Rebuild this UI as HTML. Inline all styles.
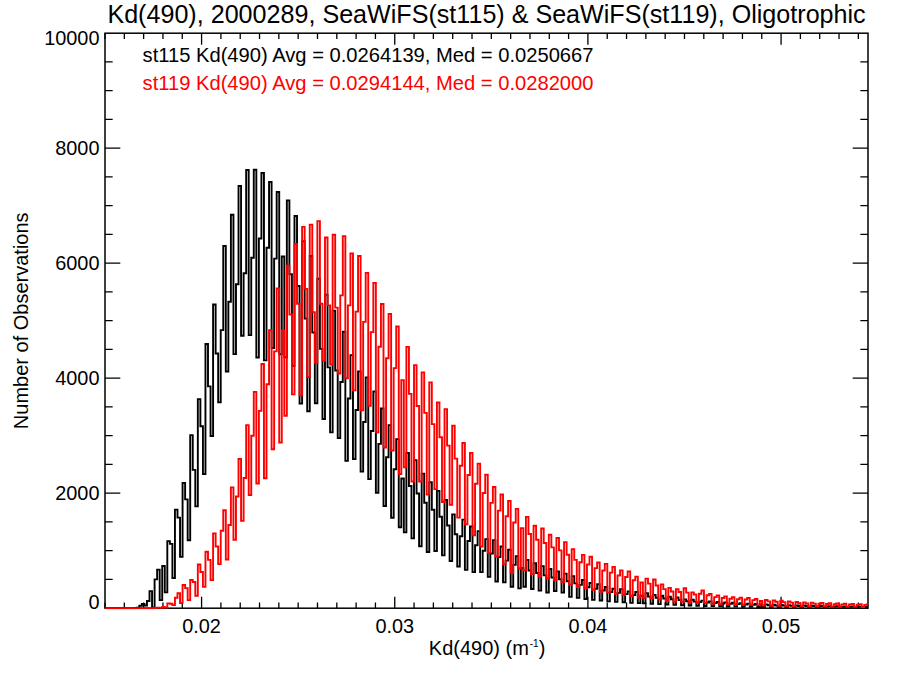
<!DOCTYPE html>
<html><head><meta charset="utf-8"><style>
html,body{margin:0;padding:0;background:#fff;width:900px;height:675px;overflow:hidden}
svg{display:block}
text{font-family:"Liberation Sans",sans-serif;fill:#000}
</style></head><body>
<svg width="900" height="675" viewBox="0 0 900 675">
<rect width="900" height="675" fill="#fff"/>
<defs><clipPath id="pc"><rect x="105.0" y="31.200000000000003" width="763.0" height="578.0"/></clipPath></defs>
<path d="M105.00,608.2v-5.75M105.00,33.2v5.75M124.32,608.2v-5.75M124.32,33.2v5.75M143.63,608.2v-5.75M143.63,33.2v5.75M162.95,608.2v-5.75M162.95,33.2v5.75M182.27,608.2v-5.75M182.27,33.2v5.75M201.58,608.2v-11.5M201.58,33.2v11.5M220.90,608.2v-5.75M220.90,33.2v5.75M240.22,608.2v-5.75M240.22,33.2v5.75M259.53,608.2v-5.75M259.53,33.2v5.75M278.85,608.2v-5.75M278.85,33.2v5.75M298.16,608.2v-5.75M298.16,33.2v5.75M317.48,608.2v-5.75M317.48,33.2v5.75M336.80,608.2v-5.75M336.80,33.2v5.75M356.11,608.2v-5.75M356.11,33.2v5.75M375.43,608.2v-5.75M375.43,33.2v5.75M394.75,608.2v-11.5M394.75,33.2v11.5M414.06,608.2v-5.75M414.06,33.2v5.75M433.38,608.2v-5.75M433.38,33.2v5.75M452.70,608.2v-5.75M452.70,33.2v5.75M472.01,608.2v-5.75M472.01,33.2v5.75M491.33,608.2v-5.75M491.33,33.2v5.75M510.65,608.2v-5.75M510.65,33.2v5.75M529.96,608.2v-5.75M529.96,33.2v5.75M549.28,608.2v-5.75M549.28,33.2v5.75M568.59,608.2v-5.75M568.59,33.2v5.75M587.91,608.2v-11.5M587.91,33.2v11.5M607.23,608.2v-5.75M607.23,33.2v5.75M626.54,608.2v-5.75M626.54,33.2v5.75M645.86,608.2v-5.75M645.86,33.2v5.75M665.18,608.2v-5.75M665.18,33.2v5.75M684.49,608.2v-5.75M684.49,33.2v5.75M703.81,608.2v-5.75M703.81,33.2v5.75M723.13,608.2v-5.75M723.13,33.2v5.75M742.44,608.2v-5.75M742.44,33.2v5.75M761.76,608.2v-5.75M761.76,33.2v5.75M781.08,608.2v-11.5M781.08,33.2v11.5M800.39,608.2v-5.75M800.39,33.2v5.75M819.71,608.2v-5.75M819.71,33.2v5.75M839.03,608.2v-5.75M839.03,33.2v5.75M858.34,608.2v-5.75M858.34,33.2v5.75M105.0,579.45h7.65M868.0,579.45h-7.65M105.0,550.70h7.65M868.0,550.70h-7.65M105.0,521.95h7.65M868.0,521.95h-7.65M105.0,493.20h15.3M868.0,493.20h-15.3M105.0,464.45h7.65M868.0,464.45h-7.65M105.0,435.70h7.65M868.0,435.70h-7.65M105.0,406.95h7.65M868.0,406.95h-7.65M105.0,378.20h15.3M868.0,378.20h-15.3M105.0,349.45h7.65M868.0,349.45h-7.65M105.0,320.70h7.65M868.0,320.70h-7.65M105.0,291.95h7.65M868.0,291.95h-7.65M105.0,263.20h15.3M868.0,263.20h-15.3M105.0,234.45h7.65M868.0,234.45h-7.65M105.0,205.70h7.65M868.0,205.70h-7.65M105.0,176.95h7.65M868.0,176.95h-7.65M105.0,148.20h15.3M868.0,148.20h-15.3M105.0,119.45h7.65M868.0,119.45h-7.65M105.0,90.70h7.65M868.0,90.70h-7.65M105.0,61.95h7.65M868.0,61.95h-7.65" stroke="#000" stroke-width="1.3" fill="none"/>
<rect x="105.0" y="33.2" width="763.0" height="575.0" fill="none" stroke="#000" stroke-width="1.5"/>
<g clip-path="url(#pc)" fill="none" stroke-linejoin="miter" stroke-linecap="butt">
<path d="M103.73,608.20H106.27V608.20H108.81V608.20H111.36V608.20H113.90V608.20H116.44V608.20H118.99V608.20H121.53V608.20H124.08V608.20H126.62V608.20H129.16V608.20H131.71V608.20H134.25V607.86H136.79V607.69H139.34V605.78H141.88V603.83H144.42V605.52H146.97V600.96H149.51V591.12H152.05V607.68H154.59V579.34H157.14V569.62H159.68V600.15H162.22V566.05H164.77V592.33H167.31V541.16H169.86V543.86H172.40V577.96H174.94V509.65H177.49V517.64H180.03V556.85H182.57V482.91H185.12V499.35H187.66V540.18H190.20V435.12H192.75V469.86H195.29V506.37H197.83V399.13H200.38V426.25H202.92V473.94H205.46V344.05H208.00V386.34H210.55V435.93H213.09V304.54H215.63V353.57H218.18V402.41H220.72V330.15H223.26V246.01H225.81V371.47H228.35V301.76H230.90V214.73H233.44V354.17H235.98V284.30H238.53V186.04H241.07V335.77H243.61V273.21H246.16V169.99H248.70V335.08H251.24V257.68H253.78V169.71H256.33V357.50H258.87V238.48H261.42V173.04H263.96V360.38H266.50V247.68H269.05V182.01H271.59V348.01H274.13V258.60H276.68V192.02H279.22V354.26H281.76V256.47H284.31V357.23H286.85V200.41H289.39V274.30H291.94V366.07H294.48V216.05H297.02V286.03H299.56V403.44H302.11V241.29H304.65V318.60H307.20V411.26H309.74V256.01H312.28V332.51H314.83V403.27H317.37V278.73H319.91V348.87H322.46V419.03H325.00V294.65H327.54V367.39H330.09V432.37H332.63V310.58H335.17V370.50H337.72V437.94H340.26V382.05H342.80V331.80H345.35V460.89H347.89V398.56H350.43V355.14H352.98V458.99H355.52V410.06H358.06V371.42H360.61V471.58H363.15V421.96H365.69V377.40H368.24V479.00H370.78V431.04H373.32V391.43H375.87V492.74H378.41V443.89H380.95V408.50H383.50V506.00H386.04V457.30H388.58V425.12H391.12V517.70H393.67V469.19H396.21V439.09H398.75V527.21H401.30V478.43H403.84V532.36H406.38V452.89H408.93V485.93H411.47V538.42H414.01V460.31H416.56V493.43H419.10V546.23H421.65V473.59H424.19V502.81H426.73V552.02H429.28V482.22H431.82V509.71H434.36V550.93H436.91V490.84H439.45V516.77H441.99V555.36H444.54V500.04H447.08V525.51H449.62V560.94H452.17V514.42H454.71V534.21H457.25V566.57H459.80V536.28H462.34V519.59H464.88V569.85H467.43V540.99H469.97V526.49H472.51V572.09H475.06V545.29H477.60V531.09H480.14V572.09H482.69V550.78H485.23V539.09H487.77V576.86H490.31V553.46H492.86V540.12H495.40V581.46H497.94V557.14H500.49V546.50H503.03V582.38H505.58V560.59H508.12V549.78H510.66V586.70H513.21V564.84H515.75V556.11H518.29V588.36H520.84V568.02H523.38V586.70H525.92V559.84H528.47V570.43H531.01V589.00H533.55V563.29H536.10V573.04H538.64V590.61H541.18V566.17H543.73V575.34H546.27V592.56H548.81V569.04H551.36V577.49H553.90V591.01H556.44V571.34H558.99V579.31H561.53V592.56H564.07V573.59H566.62V581.20H569.16V596.83H571.70V576.17H574.25V583.34H576.79V597.90H579.33V584.86H581.88V579.97H584.42V599.00H586.96V587.24H589.50V583.02H592.05V599.91H594.59V588.70H597.13V584.22H599.68V600.54H602.22V590.46H604.77V586.93H607.31V601.40H609.85V592.13H612.39V588.71H614.94V601.88H617.48V592.85H620.02V589.17H622.57V602.25H625.11V594.17H627.65V591.41H630.20V602.84H632.74V595.11H635.28V592.04H637.83V603.08H640.37V595.69H642.92V603.26H645.46V593.08H648.00V596.59H650.55V603.76H653.09V594.92H655.63V597.80H658.18V604.16H660.72V595.78H663.26V598.51H665.81V604.46H668.35V596.70H670.89V599.21H673.44V604.74H675.98V597.50H678.52V600.15H681.07V605.25H683.61V599.40H686.15V601.27H688.70V605.54H691.24V599.81H693.78V601.66H696.33V605.72H698.87V602.00H701.41V600.67H703.96V605.94H706.50V602.54H709.04V601.36H711.59V606.16H714.13V603.09H716.67V601.96H719.22V606.32H721.76V603.44H724.30V602.39H726.85V606.46H729.39V603.78H731.93V602.82H734.48V606.59H737.02V604.13H739.56V603.25H742.11V606.72H744.65V604.43H747.19V603.60H749.74V606.83H752.28V604.70H754.82V603.95H757.37V606.93H759.91V604.98H762.45V607.01H765.00V604.41H767.54V605.23H770.08V607.09H772.62V604.66H775.17V605.44H777.71V607.18H780.25V604.92H782.80V605.65H785.34V607.26H787.88V605.18H790.43V605.85H792.97V607.33H795.51V605.38H798.06V605.99H800.60V607.38H803.14V605.56H805.69V606.13H808.23V607.43H810.77V605.73H813.32V606.27H815.86V607.49H818.41V606.36H820.95V605.96H823.49V607.54H826.04V606.50H828.58V606.13H831.12V607.59H833.67V606.64H836.21V606.30H838.75V607.64H841.30V606.77H843.84V606.45H846.38V607.68H848.93V606.84H851.47V606.53H854.01V607.70H856.56V606.91H859.10V606.62H861.64V607.73H864.19V606.98H866.73V606.71H869.27V607.76H871.82V607.05H874.36V606.79H876.90V607.78H879.45V607.12H881.99" stroke="#000" stroke-width="1.9"/>
<path d="M103.73,608.20H106.27V608.20H108.81V608.20H111.36V608.20H113.90V608.20H116.44V608.20H118.99V608.20H121.53V608.20H124.08V608.20H126.62V608.20H129.16V608.20H131.71V608.20H134.25V608.20H136.79V608.20H139.34V608.20H141.88V608.20H144.42V608.20H146.97V608.20H149.51V608.20H152.05V608.20H154.59V608.06H157.14V607.65H159.68V607.92H162.22V607.06H164.77V607.66H167.31V603.37H169.86V603.77H172.40V605.15H174.94V597.74H177.49V593.13H180.03V602.97H182.57V584.97H185.12V588.13H187.66V600.15H190.20V579.97H192.75V582.04H195.29V595.78H197.83V564.50H200.38V572.03H202.92V586.87H205.46V551.79H208.00V559.84H210.55V580.14H213.09V533.39H215.63V546.56H218.18V564.16H220.72V530.80H223.26V510.28H225.81V559.50H228.35V524.94H230.90V487.39H233.44V539.78H235.98V496.54H238.53V458.93H241.07V520.86H243.61V478.02H246.16V425.12H248.70V495.04H251.24V435.77H253.78V391.83H256.33V483.48H258.87V410.89H261.42V364.06H263.96V478.19H266.50V384.22H269.05V330.30H271.59V449.29H274.13V351.36H276.68V288.50H279.22V442.49H281.76V330.09H284.31V415.81H286.85V265.73H289.39V314.44H291.94V394.36H294.48V244.00H297.02V303.68H299.56V395.28H302.11V226.92H304.65V288.90H307.20V377.05H309.74V224.62H312.28V312.08H314.83V362.85H317.37V221.11H319.91V303.74H322.46V360.61H325.00V237.44H327.54V305.41H330.09V364.57H332.63V234.74H335.17V307.65H337.72V373.49H340.26V295.36H342.80V236.12H345.35V378.32H347.89V305.34H350.43V253.43H352.98V390.39H355.52V311.64H358.06V256.01H360.61V410.40H363.15V321.83H365.69V272.92H368.24V405.80H370.78V332.17H373.32V282.92H375.87V432.37H378.41V346.78H380.95V304.03H383.50V447.55H386.04V358.30H388.58V314.03H391.12V450.48H393.67V368.08H396.21V326.51H398.75V474.05H401.30V380.15H403.84V467.38H406.38V346.92H408.93V393.83H411.47V481.53H414.01V365.15H416.56V406.05H419.10V481.53H421.65V372.34H424.19V412.87H426.73V494.47H429.28V382.34H431.82V424.13H434.36V489.12H436.91V402.52H439.45V437.28H441.99V502.06H444.54V409.14H447.08V445.65H449.62V504.76H452.17V425.81H454.71V458.59H457.25V517.64H459.80V465.79H462.34V442.95H464.88V524.25H467.43V474.96H469.97V452.89H472.51V535.35H475.06V483.76H477.60V463.65H480.14V546.56H482.69V492.99H485.23V474.74H487.77V553.17H490.31V502.92H492.86V486.93H495.40V556.51H497.94V510.59H500.49V494.52H503.03V564.27H505.58V516.29H508.12V500.91H510.66V573.12H513.21V522.55H515.75V508.90H518.29V568.53H520.84V528.14H523.38V570.42H525.92V516.89H528.47V534.00H531.01V574.11H533.55V525.80H536.10V539.74H538.64V576.28H541.18V528.50H543.73V543.00H546.27V578.54H548.81V534.72H551.36V547.39H553.90V580.42H556.44V537.99H558.99V550.38H561.53V582.10H564.07V542.13H566.62V554.70H569.16V584.74H571.70V549.26H574.25V559.88H576.79V586.98H579.33V562.24H581.88V554.90H584.42V588.53H586.96V564.46H589.50V556.74H592.05V589.91H594.59V568.16H597.13V562.43H599.68V591.76H602.22V570.56H604.77V563.87H607.31V592.59H609.85V572.64H612.39V566.86H614.94V593.91H617.48V575.47H620.02V570.42H622.57V595.01H625.11V576.98H627.65V571.34H630.20V595.96H632.74V580.20H635.28V576.63H637.83V597.53H640.37V582.50H642.92V597.91H645.46V578.59H648.00V583.58H650.55V598.33H653.09V579.51H655.63V585.45H658.18V599.66H660.72V584.34H663.26V589.14H665.81V601.10H668.35V587.85H670.89V591.46H673.44V601.82H675.98V589.11H678.52V591.94H681.07V601.78H683.61V588.31H686.15V592.62H688.70V602.62H691.24V592.33H693.78V594.48H696.33V602.77H698.87V593.71H701.41V590.49H703.96V602.86H706.50V595.29H709.04V594.00H711.59V603.83H714.13V597.11H716.67V595.49H719.22V604.26H721.76V598.01H724.30V596.36H726.85V604.55H729.39V598.73H731.93V597.22H734.48V604.78H737.02V599.20H739.56V597.62H742.11V604.91H744.65V599.54H747.19V598.02H749.74V605.10H752.28V600.17H754.82V598.94H757.37V605.40H759.91V600.94H762.45V605.60H765.00V599.99H767.54V601.40H770.08V605.72H772.62V600.36H775.17V601.71H777.71V605.84H780.25V600.73H782.80V602.09H785.34V606.01H787.88V601.34H790.43V602.61H792.97V606.21H795.51V601.96H798.06V603.13H800.60V606.37H803.14V602.36H805.69V603.38H808.23V606.46H810.77V602.66H813.32V603.63H815.86V606.56H818.41V603.78H820.95V603.02H823.49V606.63H826.04V603.98H828.58V603.26H831.12V606.71H833.67V604.19H836.21V603.50H838.75V606.78H841.30V604.38H843.84V603.72H846.38V606.85H848.93V604.56H851.47V603.95H854.01V606.92H856.56V604.74H859.10V604.15H861.64V606.98H864.19V604.91H866.73V604.35H869.27V607.03H871.82V605.02H874.36V604.45H876.90V607.07H879.45V605.11H881.99" stroke="#f00" stroke-width="1.9"/>
</g>
<text x="107.4" y="23.2" style="font-size:25.12px">Kd(490), 2000289, SeaWiFS(st115) &amp; SeaWiFS(st119), Oligotrophic</text>
<text x="142.6" y="61.8" style="font-size:20.16px">st115 Kd(490) Avg = 0.0264139, Med = 0.0250667</text>
<text x="142.6" y="89.8" style="font-size:20.16px;fill:#f00">st119 Kd(490) Avg = 0.0294144, Med = 0.0282000</text>
<g style="font-size:19.9px"><text x="201.58" y="633.1" text-anchor="middle">0.02</text><text x="394.75" y="633.1" text-anchor="middle">0.03</text><text x="587.91" y="633.1" text-anchor="middle">0.04</text><text x="781.08" y="633.1" text-anchor="middle">0.05</text><text x="99.5" y="608.90" text-anchor="end">0</text><text x="99.5" y="500.00" text-anchor="end">2000</text><text x="99.5" y="385.00" text-anchor="end">4000</text><text x="99.5" y="270.00" text-anchor="end">6000</text><text x="99.5" y="155.00" text-anchor="end">8000</text><text x="99.5" y="44.80" text-anchor="end">10000</text></g>
<text x="428.8" y="654.5" style="font-size:20px">Kd(490) (m<tspan dx="0.8" dy="-8" style="font-size:10px">-1</tspan><tspan dx="0.3" dy="8">)</tspan></text>
<text transform="translate(28.2,320.8) rotate(-90)" text-anchor="middle" style="font-size:20px">Number of Observations</text>
</svg>
</body></html>
